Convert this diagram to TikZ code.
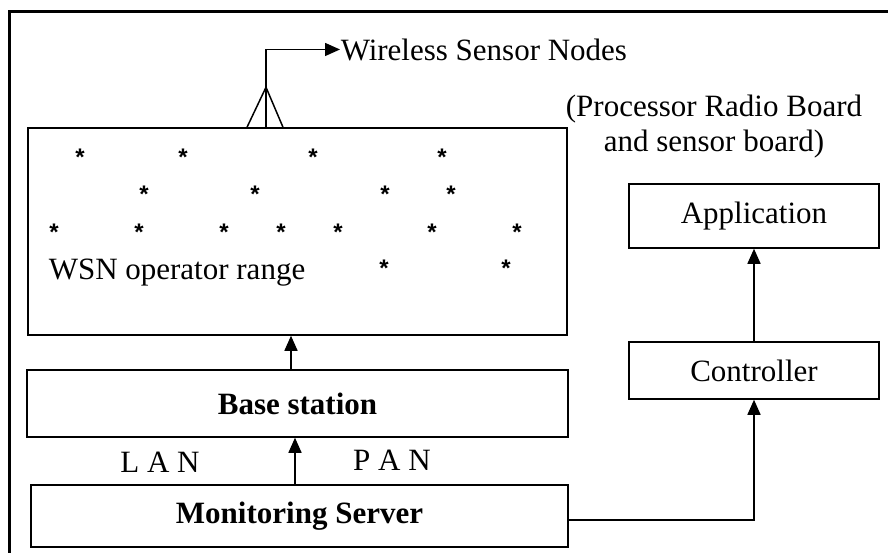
\documentclass[tikz,border=0pt]{standalone}
\usepackage{fontspec}
\setmainfont{Liberation Serif}
\newfontfamily\starfont{Liberation Sans}
\usetikzlibrary{arrows.meta}
\begin{document}
\begin{tikzpicture}[x=1pt,y=-1pt,
  line width=1.5pt,
  box/.style={draw, rectangle, inner sep=0pt, font=\fontsize{31}{35}\selectfont},
  txt/.style={inner sep=0pt, font=\fontsize{31}{35}\selectfont},
  starmark/.style={inner sep=0pt, anchor=base, yshift=-14pt, font=\starfont\bfseries\fontsize{24}{24}\selectfont},
  arr/.style={-{Triangle[length=15pt,width=13pt]}},
]
\useasboundingbox (0,0) rectangle (888,552);

% outer frame (only its top and left edges fall inside the page)
\draw[line width=3pt] (9,560) -- (9,11) -- (900,11);

% sensor field
\node[box, minimum width=539pt, minimum height=207pt] (wsn) at (297.5,231.5) {};
\node[txt, anchor=base west] (wsnlabel) at (48,279) {WSN operator range};
\foreach \px/\py [count=\i] in {80/151,183/151,313/151,442/151,
    144/188,255/188,385/188,451/188,
    54/226,139/226,224/226,281/226,338/226,432/226,517/226,
    384/262,506/262}
  \node[starmark] (s\i) at (\px,\py) {*};

% base station and monitoring server
\node[box, minimum width=541pt, minimum height=67pt, font=\fontsize{31}{35}\selectfont\bfseries] (base) at (297.5,403.5) {Base station};
\node[box, minimum width=537pt, minimum height=62pt, font=\fontsize{31}{35}\selectfont\bfseries] (mon) at (299.5,516) {Monitoring Server};
\node[txt] (lan) at (160,462) {L A N};
\node[txt] (pan) at (392,460) {P A N};

% application side
\node[box, minimum width=250pt, minimum height=64pt] (app) at (754,216) {Application};
\node[box, minimum width=250pt, minimum height=57pt] (ctrl) at (754,370.5) {Controller};
\node[txt, align=center] (board) at (714,127) {(Processor Radio Board\\and sensor board)};

% antenna on the sensor field
\coordinate (ant) at ([xshift=-31.5pt]wsn.north);
\coordinate (apex) at ([yshift=40pt]ant);
\draw (ant) ++(-19,0) -- (apex) -- ([xshift=17pt]ant);
\node[txt, anchor=base west] (wl) at (340,60) {Wireless Sensor Nodes};
\draw[arr] (ant) |- (wl.west);

% connectors
\draw[arr] ([xshift=-6.5pt]base.north) -- ([xshift=-6.5pt]base.north |- wsn.south);
\draw[arr] ([xshift=-4.5pt]mon.north) -- ([xshift=-4.5pt]mon.north |- base.south);
\draw[arr] ([yshift=-4pt]mon.east) -| (ctrl.south);
\draw[arr] (ctrl.north) -- (app.south);
\end{tikzpicture}
\end{document}
